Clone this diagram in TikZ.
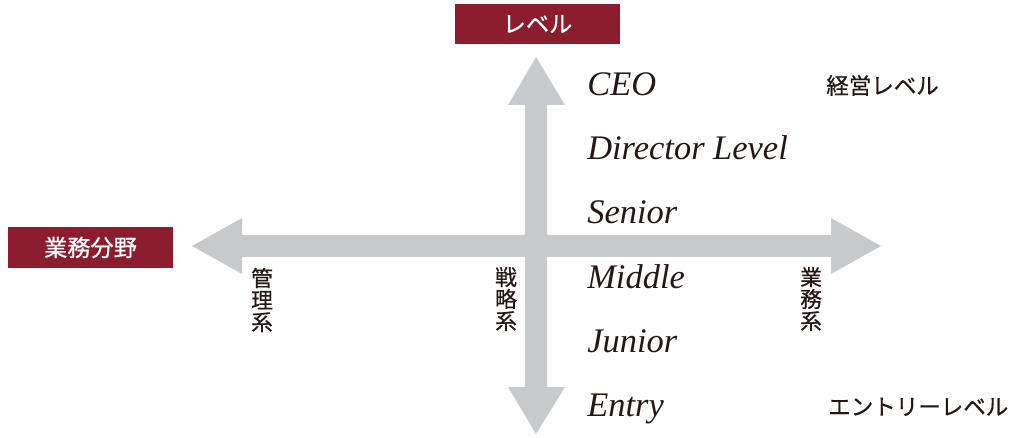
\documentclass[tikz,border=0pt]{standalone}
\usepackage{fontspec}
\setmainfont{Liberation Serif}
\newfontfamily\jpfont[FakeBold=0.6]{Noto Sans CJK JP}
\usetikzlibrary{positioning}
\definecolor{hdrred}{HTML}{8C1D2F}
\definecolor{axisgray}{HTML}{C9CACB}
\definecolor{inkblack}{HTML}{231815}
\tikzset{
  header/.style={
    fill=hdrred,
    text=white,
    font=\jpfont\fontsize{16.5}{16.5}\selectfont,
    minimum width=4.125cm,
    minimum height=1cm,
    inner sep=0pt},
  lvl/.style={anchor=base west, inner sep=0pt, text=inkblack,
    font=\itshape\fontsize{24.5}{24.5}\selectfont},
  note/.style={anchor=base west, inner sep=0pt, text=inkblack,
    font=\jpfont\fontsize{16}{16}\selectfont},
  vlabel/.style={align=center, inner sep=0pt, text=inkblack,
    font=\jpfont\fontsize{15.5}{15.6}\selectfont},
}

\begin{document}
\begin{tikzpicture}[x=0.025cm, y=-0.025cm]
    \useasboundingbox (0,0) rectangle (1010,438);
    % axes
    \coordinate (o) at (536,246);
    \fill[axisgray] (192,246) -- (242,218) -- (242,235) -- (525,235)
        -- (525,105) -- (508,105) -- (536,57) -- (565,105) -- (547,105)
        -- (547,235) -- (831,235) -- (831,218) -- (881,246) -- (831,274)
        -- (831,257) -- (547,257) -- (547,387) -- (565,387) -- (536,434)
        -- (508,387) -- (525,387) -- (525,257) -- (242,257) -- (242,274)
        -- cycle;
    % headers
    \node[header] (lvlhdr)   at (537.5,24)  {レベル};
    \node[header] (fieldhdr) at (90.5,247.5) {業務分野};
    % levels
    \foreach \name/\txt [count=\i] in {ceo/CEO, dir/Director Level,
        sen/Senior, mid/Middle, jun/Junior, ent/Entry}
        \node[lvl] (\name) at (587,32+64*\i) {\txt};
    \node[note] (exec)     at (826,94)  {経営レベル};
    \node[note] (entrylvl) at (828,415) {エントリーレベル};
    % fields
    \node[vlabel] (mgmt)  at (262,300) {管\\理\\系};
    \node[vlabel] (strat) at (506,299) {戦\\略\\系};
    \node[vlabel] (ops)   at (811,299) {業\\務\\系};
\end{tikzpicture}
\end{document}
